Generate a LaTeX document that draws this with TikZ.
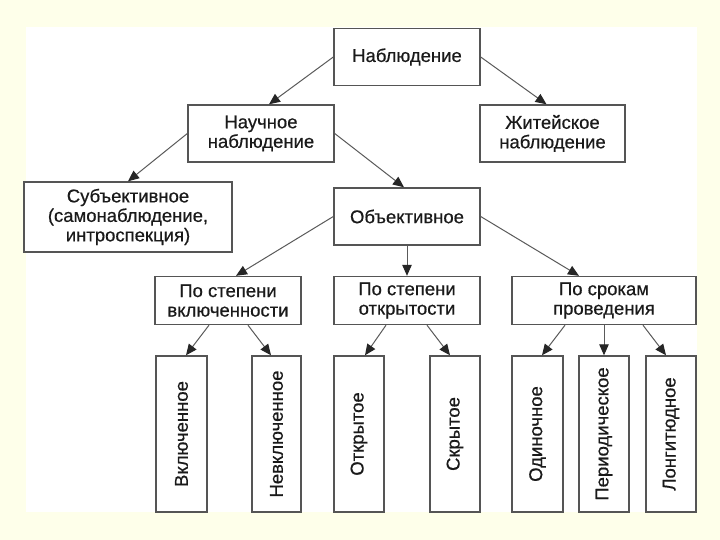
\documentclass[tikz,border=0pt]{standalone}
\usepackage{fontspec}
\setmainfont{Liberation Sans}
\newfontfamily\dfont{Liberation Sans}[FakeBold=0.5]
\usetikzlibrary{arrows.meta,calc}
\definecolor{bgyellow}{HTML}{FEFFEA}
\definecolor{boxline}{HTML}{555555}
\definecolor{arrline}{HTML}{5A5A5A}
\definecolor{txt}{HTML}{1A1A1A}
\begin{document}
\begin{tikzpicture}[x=1pt,y=-1pt,
  box/.style={draw=boxline,line width=1.4pt,fill=white,inner sep=0pt,align=center,
    text=txt,font=\dfont\fontsize{18.5}{19.5}\selectfont},
  leaf/.style={box,minimum height=156pt},
  arr/.style={draw=arrline,line width=1pt,-{Triangle[length=11pt,width=9.5pt,color=black!85]}}]
\useasboundingbox (0,0) rectangle (720,540);
\fill[bgyellow] (0,0) rectangle (720,540);
\fill[white] (26,27) rectangle (697,512);
% nodes
\node[box,minimum width=146pt,minimum height=57pt] (nab) at (407,57) {Наблюдение};
\node[box,minimum width=146pt,minimum height=57pt] (nauch) at (261,133.5) {Научное\\наблюдение};
\node[box,minimum width=145pt,minimum height=57pt] (zhit) at (552.5,133.5) {Житейское\\наблюдение};
\node[box,minimum width=208pt,minimum height=70pt] (subj) at (128,217) {Субъективное\\(самонаблюдение,\\интроспекция)};
\node[box,minimum width=146pt,minimum height=57pt] (obj) at (407,216.5) {Объективное};
\node[box,minimum width=146pt,minimum height=48pt] (p1) at (228,300.5) {По степени\\включенности};
\node[box,minimum width=146pt,minimum height=48pt] (p2) at (407,300.5) {По степени\\открытости};
\node[box,minimum width=184pt,minimum height=48pt] (p3) at (604,300.5) {По срокам\\проведения};
\node[leaf,minimum width=51pt] (l1) at (181.5,434) {};
\node[leaf,minimum width=49pt] (l2) at (276.5,434) {};
\node[leaf,minimum width=50pt] (l3) at (359,434) {};
\node[leaf,minimum width=50pt] (l4) at (455,434) {};
\node[leaf,minimum width=51pt] (l5) at (537.5,434) {};
\node[leaf,minimum width=50pt] (l6) at (604,434) {};
\node[leaf,minimum width=50pt] (l7) at (671,434) {};
\foreach \n/\t in {l1/Включенное,l2/Невключенное,l3/Открытое,l4/Скрытое,l5/Одиночное,l6/Периодическое,l7/Лонгитюдное}
  \node[rotate=90,text=txt,font=\dfont\fontsize{18.5}{20}\selectfont,inner sep=0pt] (\n t) at (\n) {\t};
% arrows
\draw[arr] (nab.west) -- ($(nauch.north)+(8,0)$);
\draw[arr] (nab.east) -- ($(zhit.north)+(-6,0)$);
\draw[arr] (nauch.west) -- (subj.north);
\draw[arr] (nauch.east) -- ($(obj.north)+(-3,0)$);
\draw[arr] (obj.west) -- ($(p1.north)+(8,0)$);
\draw[arr] (obj.south) -- (p2.north);
\draw[arr] (obj.east) -- ($(p3.north)+(-25,0)$);
\draw[arr] ($(p1.south)+(-19,0)$) -- ($(l1.north)+(4.5,0)$);
\draw[arr] ($(p1.south)+(20,0)$) -- ($(l2.north)+(-5.5,0)$);
\draw[arr] ($(p2.south)+(-21,0)$) -- ($(l3.north)+(6,0)$);
\draw[arr] ($(p2.south)+(20,0)$) -- ($(l4.north)+(-5,0)$);
\draw[arr] ($(p3.south)+(-39,0)$) -- ($(l5.north)+(4.5,0)$);
\draw[arr] (p3.south) -- (l6.north);
\draw[arr] ($(p3.south)+(39,0)$) -- ($(l7.north)+(-5,0)$);
\end{tikzpicture}
\end{document}
